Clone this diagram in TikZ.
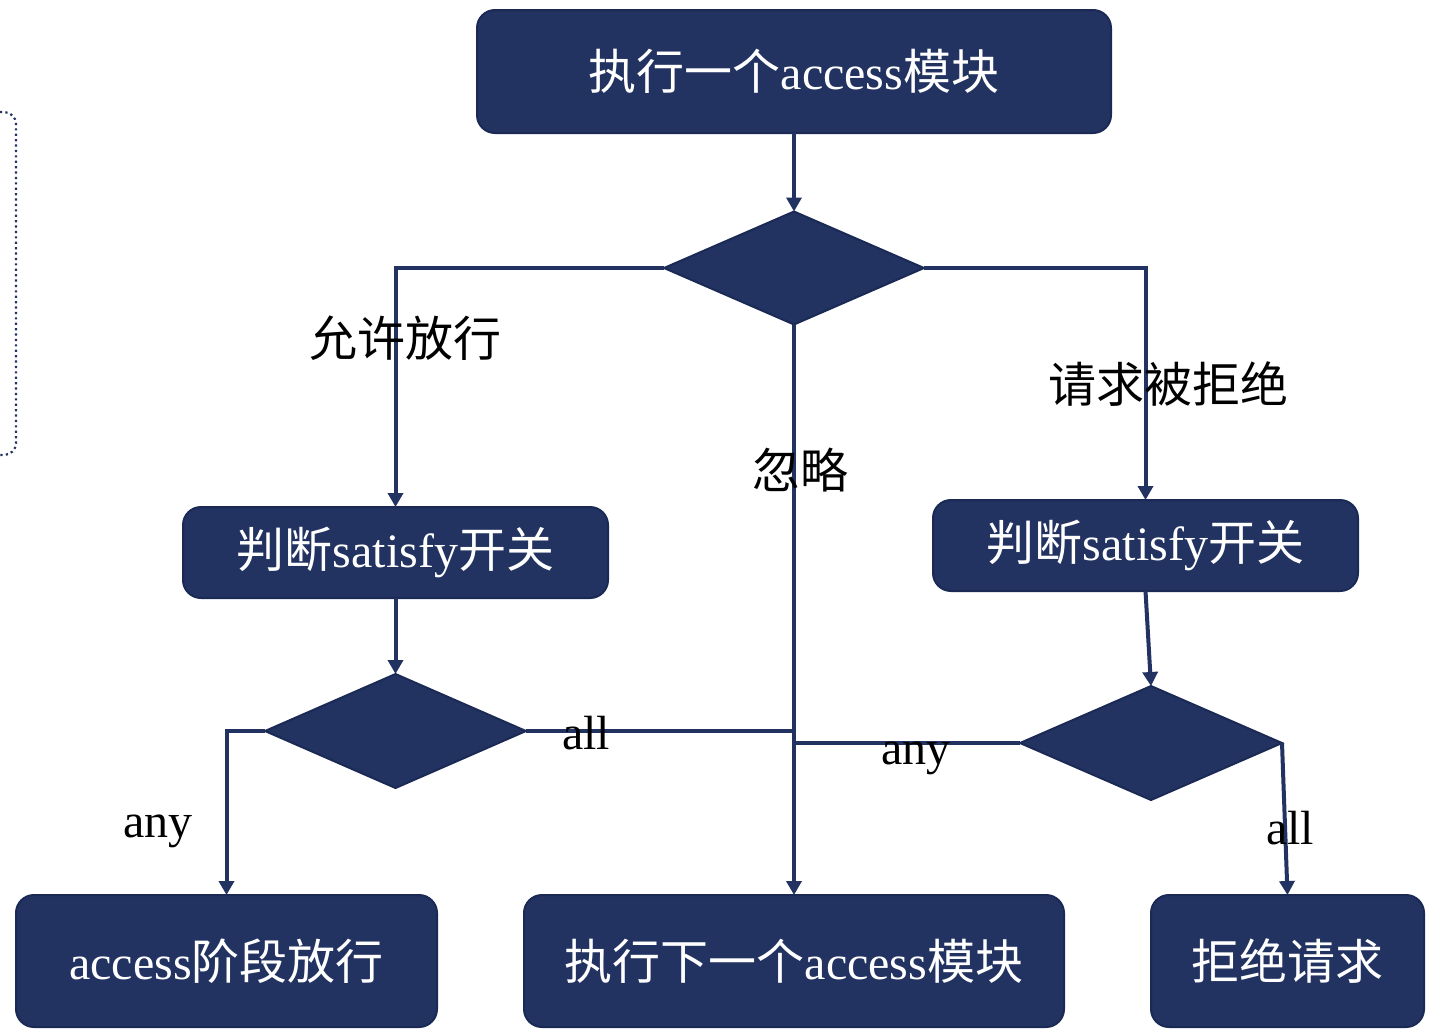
\documentclass[tikz,border=0pt]{standalone}
\usepackage{fontspec}
\setmainfont{Liberation Serif}
\newfontfamily\cjk{Noto Sans CJK SC}
\usetikzlibrary{shapes.geometric,arrows.meta}
\definecolor{navy}{HTML}{223261}
\definecolor{navyedge}{HTML}{1B2A55}
\tikzset{
  box/.style={draw=navyedge, line width=2pt, fill=navy, rounded corners=18pt,
    text=white, inner sep=0pt, outer sep=0pt, font=\fontsize{48}{52}\selectfont},
  dec/.style={diamond, draw=navyedge, line width=2pt, fill=navy, inner sep=0pt, outer sep=0pt},
  conn/.style={draw=navy, line width=4pt},
  arr/.style={conn, -{Triangle[length=14pt,width=15pt]}},
  lbl/.style={text=black, inner sep=0pt, font=\fontsize{48}{52}\selectfont},
}
\begin{document}
\begin{tikzpicture}[x=1pt,y=-1pt]
\useasboundingbox (0,0) rectangle (1437,1029);
% dotted frame at the left edge
\draw[navy, line width=2.2pt, dash pattern=on 2.2pt off 3.2pt, rounded corners=12pt]
  (0,112) -- (16,112) -- (16,455) -- (0,455);

\node[box, minimum width=634pt, minimum height=123pt] (top) at (794,71.5)
  {{\cjk 执行一个}access{\cjk 模块}};
\node[dec, minimum width=260pt, minimum height=113pt, aspect=2.3] (d1) at (794,268) {};

\node[box, minimum width=425pt, minimum height=91pt] (satL) at (395.5,552.5)
  {{\cjk 判断}satisfy{\cjk 开关}};
\node[box, minimum width=425pt, minimum height=91pt] (satR) at (1145.5,545.5)
  {{\cjk 判断}satisfy{\cjk 开关}};

\node[dec, minimum width=261pt, minimum height=114pt, aspect=2.3] (dL) at (395.5,731) {};
\node[dec, minimum width=262pt, minimum height=114pt, aspect=2.3] (dR) at (1151,743) {};

\node[box, minimum width=421pt, minimum height=132pt] (botL) at (226.5,961)
  {access{\cjk 阶段放行}};
\node[box, minimum width=540pt, minimum height=132pt] (botM) at (794,961)
  {{\cjk 执行下一个}access{\cjk 模块}};
\node[box, minimum width=273pt, minimum height=132pt] (botR) at (1287.5,961)
  {{\cjk 拒绝请求}};

% connectors
\draw[arr] (top.south) -- (d1.north);
\draw[arr] (d1.west) -| (satL.north);
\draw[arr] (d1.east) -| (satR.north);
\draw[arr] (d1.south) -- (botM.north);
\draw[arr] (satL.south) -- (dL.north);
\draw[arr] (satR.south) -- (dR.north);
\draw[arr] (dL.west) -| (botL.north);
\draw[conn] (dL.east) -- (dL.east -| d1.south);
\draw[conn] (dR.west) -- (dR.west -| d1.south);
\draw[arr] (dR.east) -- (botR.north);

% labels
\node[lbl] (l1) at (405,338) {\cjk 允许放行};
\node[lbl] (l2) at (1168,384) {\cjk 请求被拒绝};
\node[lbl] (l3) at (800,470) {\cjk 忽略};
\node[lbl] (l4) at (586,733) {all};
\node[lbl] (l5) at (916,758) {any};
\node[lbl] (l6) at (158,831) {any};
\node[lbl] (l7) at (1290,828) {all};
\end{tikzpicture}
\end{document}
